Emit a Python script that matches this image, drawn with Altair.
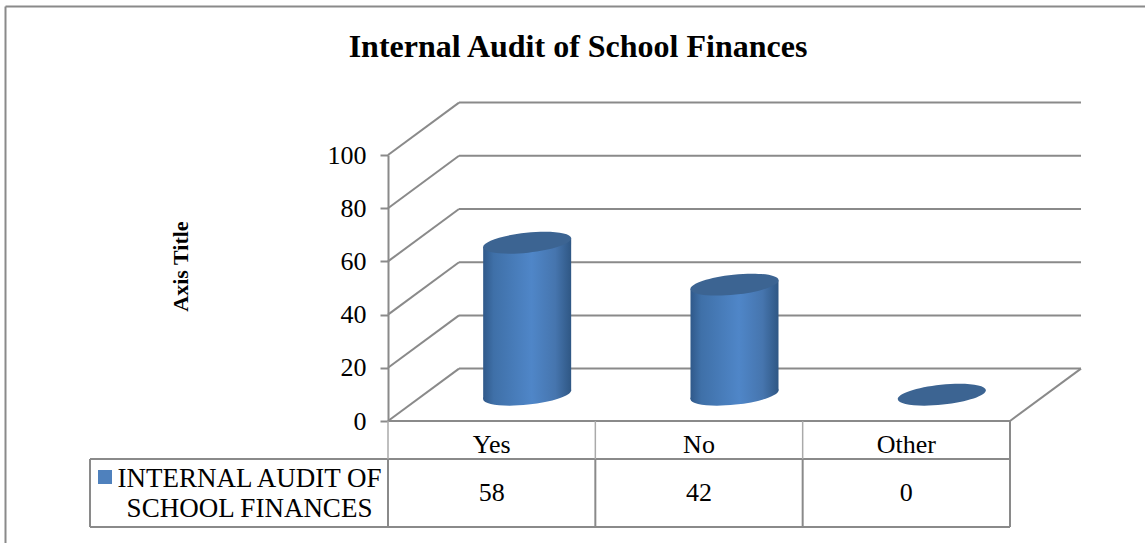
import altair as alt
import pandas as pd

categories = ["Yes", "No", "Other"]
audit_share = [58, 42, 0]
y_ticks = [0, 20, 40, 60, 80, 100]
series_lines = ["INTERNAL AUDIT OF", "SCHOOL FINANCES"]

SERIF = "Liberation Serif"
LINE = "#8a8a8a"

# Plot area, in page pixels; every layer shares these scales.
LEFT, RIGHT, TOP, BOTTOM = 388, 1010, 155, 421
PW, PH = RIGHT - LEFT, BOTTOM - TOP
x_scale = alt.Scale(domain=[0, 3], range=[0, PW], nice=False, zero=False)
y_scale = alt.Scale(domain=[0, 100], range=[PH, 0], nice=False, zero=False)


def ux(px):
    return (px - LEFT) / (PW / 3)


def uy(py):
    return (BOTTOM - py) / (PH / 100)


# Depth of the pseudo-3D floor in scale units.
DEPTH_X = ux(459)
DEPTH_Y = 19.7
# Column geometry: mid-depth baseline, foreshortening, half width and tilt.
MID_X = DEPTH_X / 2
MID_Y = 9.9
FORESHORTEN = 0.985
HALF_W = 44 / (PW / 3)
SLANT = 1.6

segments = []
for v in y_ticks:
    segments.append((0, v, DEPTH_X, v + DEPTH_Y, LINE, 2))
    if v > 0:
        segments.append((DEPTH_X, v + DEPTH_Y, 3 + DEPTH_X, v + DEPTH_Y, LINE, 2))
segments += [
    (DEPTH_X, DEPTH_Y, 3 + DEPTH_X, DEPTH_Y, LINE, 2),
    (3, 0, 3 + DEPTH_X, DEPTH_Y, LINE, 2),
    # Data table below the floor
    (0, 0, 3, 0, LINE, 2),
    (ux(90), uy(459), 3, uy(459), LINE, 2),
    (ux(90), uy(527), 3, uy(527), LINE, 2),
    (ux(90), uy(459), ux(90), uy(527), LINE, 2),
    (0, uy(459), 0, uy(527), LINE, 2),
    (1, uy(459), 1, uy(527), LINE, 2),
    (2, uy(459), 2, uy(527), LINE, 2),
    (3, 0, 3, uy(527), LINE, 2),
    (0, 0, 0, uy(459), "#aaaaaa", 1.5),
    (1, 0, 1, uy(459), "#aaaaaa", 1.5),
    (2, 0, 2, uy(459), "#aaaaaa", 1.5),
    # Chart frame
    (ux(5.5), uy(6.5), ux(1145), uy(6.5), LINE, 2),
    (ux(5.5), uy(6.5), ux(5.5), uy(543), LINE, 2),
]
seg_df = pd.DataFrame(segments, columns=["x", "y", "x2", "y2", "c", "w"])

# Value axis on the front edge of the side wall, shared by all layers
value_axis = alt.Axis(
    values=y_ticks,
    title="Axis Title",
    titleFont=SERIF,
    titleFontSize=22,
    titleFontWeight="bold",
    titleColor="#000000",
    titleX=-196,
    titleY=111,
    labelFont=SERIF,
    labelFontSize=26,
    labelColor="#000000",
    labelPadding=14,
    tickColor=LINE,
    tickWidth=2,
    tickSize=8,
    domainColor=LINE,
    domainWidth=2,
    grid=False,
)


def qx(field):
    return alt.X(f"{field}:Q", scale=x_scale, axis=None)


def qy(field):
    return alt.Y(f"{field}:Q", scale=y_scale, axis=value_axis)


rules = (
    alt.Chart(seg_df)
    .mark_rule()
    .encode(
        qx("x"),
        qy("y"),
        x2="x2:Q",
        y2="y2:Q",
        color=alt.Color("c:N", scale=None),
        strokeWidth=alt.StrokeWidth("w:Q", scale=None),
    )
)

body_gradient = alt.Gradient(
    gradient="linear",
    x1=0,
    x2=1,
    y1=0,
    y2=0,
    stops=[
        alt.GradientStop(offset=0, color="#30598a"),
        alt.GradientStop(offset=0.12, color="#3f70a8"),
        alt.GradientStop(offset=0.55, color="#4f86c8"),
        alt.GradientStop(offset=0.82, color="#4675ae"),
        alt.GradientStop(offset=1, color="#2f5784"),
    ],
)
cap_path = "M-1,0A1,0.226,0,1,1,1,0A1,0.226,0,1,1,-1,0Z"
CAP_SIZE = 88.6 ** 2

columns = pd.DataFrame(
    {
        "cat": categories,
        "value": audit_share,
        "cx": [i + 0.5 + MID_X for i in range(len(categories))],
    }
)
columns["base"] = MID_Y
columns["top"] = MID_Y + columns["value"] * FORESHORTEN

sides = []
for _, row in columns.iterrows():
    sides.append((row["cat"], row["cx"] - HALF_W, row["top"] - SLANT, row["base"] - SLANT))
    sides.append((row["cat"], row["cx"] + HALF_W, row["top"] + SLANT, row["base"] + SLANT))
sides_df = pd.DataFrame(sides, columns=["cat", "x", "y", "y2"])

base_caps = (
    alt.Chart(columns[columns["value"] > 0])
    .mark_point(shape=cap_path, size=CAP_SIZE, angle=354, filled=True, opacity=1, color=body_gradient, strokeWidth=0)
    .encode(qx("cx"), qy("base"))
)
bodies = (
    alt.Chart(sides_df[sides_df["y"] > sides_df["y2"]])
    .mark_area(orient="vertical", color=body_gradient)
    .encode(qx("x"), qy("y"), y2="y2:Q", detail="cat:N")
)
top_caps = (
    alt.Chart(columns)
    .mark_point(shape=cap_path, size=CAP_SIZE, angle=354, filled=True, opacity=1, color="#3c6492", strokeWidth=0)
    .encode(qx("cx"), qy("top"))
)

# Data table contents
table_text = pd.DataFrame(
    {
        "x": [i + 0.5 for i in range(3)] * 2,
        "y": [uy(445)] * 3 + [uy(493)] * 3,
        "t": categories + [str(v) for v in audit_share],
    }
)
legend_text = pd.DataFrame(
    {"x": [ux(249.5)] * 2, "y": [uy(478.5), uy(508.5)], "t": series_lines}
)
base_text = dict(font=SERIF, color="#000000", baseline="middle", align="center")
texts = (
    alt.Chart(table_text)
    .mark_text(fontSize=26, **base_text)
    .encode(qx("x"), qy("y"), text="t:N")
)
legend_texts = (
    alt.Chart(legend_text)
    .mark_text(fontSize=27, **base_text)
    .encode(qx("x"), qy("y"), text="t:N")
)
swatch = (
    alt.Chart(pd.DataFrame({"x": [ux(105)], "y": [uy(477)]}))
    .mark_square(size=196, color="#4f81bd", opacity=1)
    .encode(qx("x"), qy("y"))
)

chart = (
    alt.layer(rules, base_caps, bodies, top_caps, texts, legend_texts, swatch)
    .properties(
        width=PW,
        height=PH,
        padding={"left": LEFT, "top": TOP, "right": 1145 - RIGHT, "bottom": 543 - BOTTOM},
        autosize=alt.AutoSizeParams(type="none"),
        title=alt.TitleParams(
            "Internal Audit of School Finances",
            font=SERIF,
            fontSize=32,
            fontWeight="bold",
            color="#000000",
            anchor="middle",
            frame="group",
            dx=-121,
            offset=0,
            dy=58,
        ),
        background="#ffffff",
    )
    .configure_view(stroke=None)
)

chart.save("out.html", embed_options={"renderer": "svg", "actions": False})
